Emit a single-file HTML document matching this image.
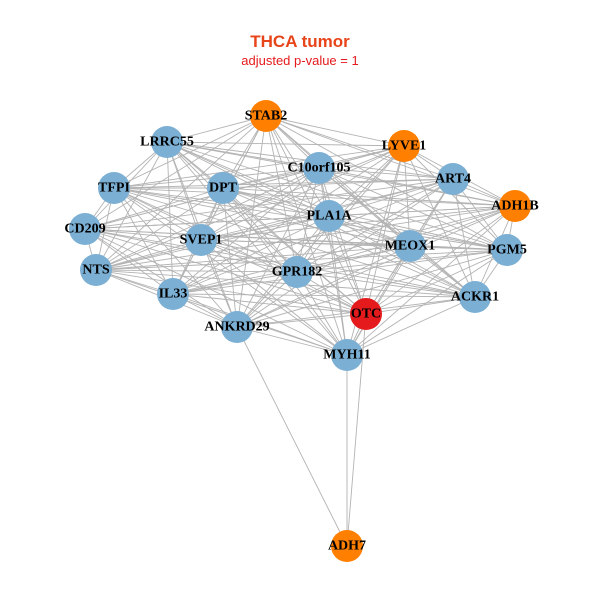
<!DOCTYPE html>
<html><head><meta charset="utf-8"><style>
html,body{margin:0;padding:0;background:#fff;}
svg{display:block}
.l{font-family:"Liberation Serif",serif;font-weight:bold;font-size:14px;fill:#000;text-anchor:middle;dominant-baseline:central}
</style></head><body>
<svg id="s" width="600" height="600" viewBox="0 0 600 600">
<rect width="600" height="600" fill="#fff"/>
<text x="300" y="47" font-family="Liberation Sans,sans-serif" font-weight="bold" font-size="17" fill="#e8441a" text-anchor="middle">THCA tumor</text>
<text x="300" y="65" font-family="Liberation Sans,sans-serif" font-size="13" fill="#e41a1c" text-anchor="middle">adjusted p-value = 1</text>
<g id="e" stroke="#b3b3b3" stroke-width="0.9"></g>
<g id="n"></g>
<g>
<text class="l" x="266" y="116">STAB2</text>
<text class="l" x="404" y="146">LYVE1</text>
<text class="l" x="167" y="142">LRRC55</text>
<text class="l" x="319" y="168">C10orf105</text>
<text class="l" x="453" y="179">ART4</text>
<text class="l" x="515" y="206">ADH1B</text>
<text class="l" x="114" y="188">TFPI</text>
<text class="l" x="223" y="188">DPT</text>
<text class="l" x="329" y="216">PLA1A</text>
<text class="l" x="85" y="229">CD209</text>
<text class="l" x="201" y="240">SVEP1</text>
<text class="l" x="410" y="246">MEOX1</text>
<text class="l" x="507" y="250">PGM5</text>
<text class="l" x="96" y="270">NTS</text>
<text class="l" x="297" y="272">GPR182</text>
<text class="l" x="173" y="294">IL33</text>
<text class="l" x="475" y="297">ACKR1</text>
<text class="l" x="366" y="314">OTC</text>
<text class="l" x="237" y="327">ANKRD29</text>
<text class="l" x="347" y="355">MYH11</text>
<text class="l" x="347" y="546">ADH7</text>
</g>
</svg>
<script>
var N=[[266,116,'o'],[404,146,'o'],[167,142,'b'],[319,168,'b'],[453,179,'b'],[515,206,'o'],[114,188,'b'],[223,188,'b'],[329,216,'b'],[85,229,'b'],[201,240,'b'],[410,246,'b'],[507,250,'b'],[96,270,'b'],[297,272,'b'],[173,294,'b'],[475,297,'b'],[366,314,'r'],[237,327,'b'],[347,355,'b']];
var ns='http://www.w3.org/2000/svg',e=document.getElementById('e'),g=document.getElementById('n');
function L(a,b){var l=document.createElementNS(ns,'line');l.setAttribute('x1',a[0]);l.setAttribute('y1',a[1]);l.setAttribute('x2',b[0]);l.setAttribute('y2',b[1]);e.appendChild(l);}
for(var i=0;i<N.length;i++)for(var j=i+1;j<N.length;j++)L(N[i],N[j]);
var A=[347,546];L(A,N[18]);L(A,N[19]);L(A,N[17]);
var C={o:'#ff7f00',b:'#7bafd4',r:'#e41a1c'};
N.concat([[347,546,'o']]).forEach(function(p){var c=document.createElementNS(ns,'circle');c.setAttribute('cx',p[0]);c.setAttribute('cy',p[1]);c.setAttribute('r',16);c.setAttribute('fill',C[p[2]]);g.appendChild(c);});
</script>
</body></html>
